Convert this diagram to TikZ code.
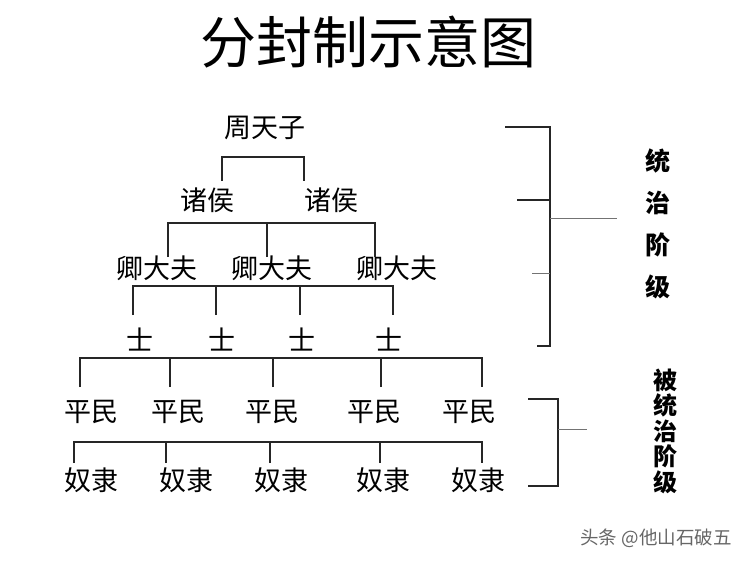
\documentclass[tikz,border=0pt]{standalone}
\usepackage{fontspec}
\usepackage{tikz}
\newfontfamily\cjk{Noto Sans CJK SC}

\tikzset{
  rank/.style={font=\cjk\fontsize{27}{27}\selectfont, inner sep=0pt},
  bus/.style={line width=1.3pt, black!85},
  thinbus/.style={line width=1pt, black!55},
}

\begin{document}
\begin{tikzpicture}[x=1pt,y=-1pt]
\useasboundingbox (0,0) rectangle (750,563);

\node[font=\cjk\fontsize{56}{56}\selectfont] (title) at (368,42) {分封制示意图};

% the ranks, top to bottom
\node[rank] (tz) at (265,128) {周天子};
\node[rank] (zh1) at (207,200) {诸侯};
\node[rank] (zh2) at (331,200) {诸侯};
\foreach \n/\x in {1/157,2/272,3/397}
    \node[rank] (qd\n) at (\x,268) {卿大夫};
\foreach \n/\x in {1/140,2/222,3/302,4/389}
    \node[rank] (shi\n) at (\x,340) {士};
\foreach \n/\x in {1/91,2/178,3/272,4/374,5/469}
    \node[rank] (pm\n) at (\x,412) {平民};
\foreach \n/\x in {1/91,2/186,3/281,4/383,5/478}
    \node[rank] (nl\n) at (\x,480) {奴隶};

% feet of the drops
\foreach \n/\x in {1/222,2/304} \coordinate (fz\n) at (\x,181);
\foreach \n/\x in {1/168,2/267,3/375} \coordinate (fq\n) at (\x,257);
\foreach \n/\x in {1/133,2/216,3/300,4/393} \coordinate (fs\n) at (\x,315);
\foreach \n/\x in {1/80,2/170,3/273,4/381,5/482} \coordinate (fp\n) at (\x,387);
\foreach \n/\x in {1/74,2/166,3/270,4/380,5/482} \coordinate (fn\n) at (\x,463);

\draw[bus] (fz1) -- ++(0,-24) -| (fz2);
\draw[bus] (fq1) -- ++(0,-34) -| (fq3);
\draw[bus] (fq2) -- ++(0,-34);
\draw[bus] (fs1) -- ++(0,-29) -| (fs4);
\foreach \n in {2,3} \draw[bus] (fs\n) -- ++(0,-29);
\draw[bus] (fp1) -- ++(0,-29) -| (fp5);
\foreach \n in {2,3,4} \draw[bus] (fp\n) -- ++(0,-29);
\draw[bus] (fn1) -- ++(0,-21) -| (fn5);
\foreach \n in {2,3,4} \draw[bus] (fn\n) -- ++(0,-21);

% ruling class bracket
\node[font=\cjk\bfseries\fontsize{25}{42}\selectfont, align=center, inner sep=0pt]
    (ruler) at (658,224) {统\\治\\阶\\级};
\coordinate (rt) at (550,127);
\coordinate (rb) at (550,346);
\coordinate (rm) at (550,218);
\draw[bus] (505,127) -- (rt) -- (rb) -- (537,346);
\draw[bus] (517,200) -- (550,200);
\draw[thinbus] (532,273) -- (550,273);
\draw[thinbus] (rm) -- (617,218);

% ruled class bracket
\node[font=\cjk\bfseries\fontsize{24}{25.5}\selectfont, align=center, inner sep=0pt]
    (ruled) at (665,431) {被\\统\\治\\阶\\级};
\coordinate (dt) at (558,399);
\coordinate (db) at (558,486);
\draw[bus] (528,399) -- (dt) -- (db) -- (528,486);
\draw[thinbus] (558,429) -- (587,429);

\node[font=\cjk\fontsize{18.5}{18.5}\selectfont, text=black!60] (mark) at (656,538) {头条 @他山石破五};
\end{tikzpicture}
\end{document}
